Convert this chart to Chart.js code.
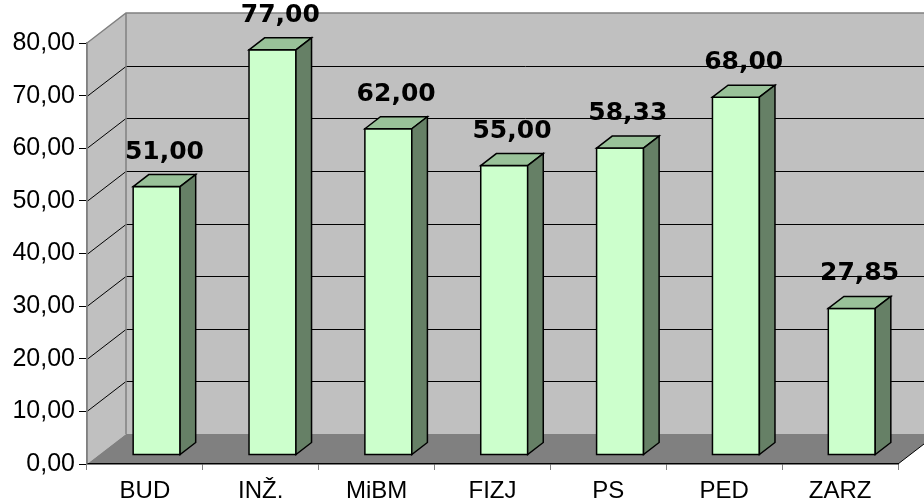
<!DOCTYPE html>
<html>
<head>
<meta charset="utf-8">
<script src="https://cdn.jsdelivr.net/npm/chart.js@4.4.1/dist/chart.umd.min.js"></script>
<style>
  html, body { margin: 0; padding: 0; background: #fff; }
  #wrap { width: 924px; height: 502px; position: relative; }
</style>
</head>
<body>
<div id="wrap"><canvas id="wykres"></canvas></div>
<script>
// dane wykresu
const categories = ['BUD', 'INŽ.', 'MiBM', 'FIZJ', 'PS', 'PED', 'ZARZ'];
const values = [51.00, 77.00, 62.00, 55.00, 58.33, 68.00, 27.85];
const yTicks = [0, 10, 20, 30, 40, 50, 60, 70, 80];

// glebokosc "3D" (przesuniecie tylnej sciany)
const DX = 39, DY = -30;
const D0 = 0.3, D1 = 0.7;   // gdzie w glebi stoja slupki

const fmt = v => v.toFixed(2).replace('.', ',');

const walls3d = {
    id: 'walls3d',
    beforeDraw(chart) {
        const ctx = chart.ctx;
        const a = chart.chartArea;
        const yScale = chart.scales.y;
        const L = a.left, R = a.right, T = a.top, B = a.bottom;

        ctx.save();
        ctx.fillStyle = '#fff';
        ctx.fillRect(0, 0, chart.width, chart.height);

        // tylna sciana
        ctx.fillStyle = '#C0C0C0';
        ctx.fillRect(L + DX, T + DY, R - L, B - T);

        // boczna sciana
        ctx.beginPath();
        ctx.moveTo(L, T);
        ctx.lineTo(L + DX, T + DY);
        ctx.lineTo(L + DX, B + DY);
        ctx.lineTo(L, B);
        ctx.closePath();
        ctx.fillStyle = '#C0C0C0';
        ctx.fill();

        // linie siatki
        ctx.strokeStyle = '#000';
        ctx.lineWidth = 1;
        yTicks.forEach(v => {
            if (v === 0 || v === yTicks[yTicks.length - 1]) return;
            const py = Math.round(yScale.getPixelForValue(v)) + 0.5;
            ctx.beginPath();
            ctx.moveTo(L, py);
            ctx.lineTo(L + DX, py + DY);
            ctx.lineTo(R + DX, py + DY);
            ctx.stroke();
        });

        // podloga
        ctx.beginPath();
        ctx.moveTo(L, B);
        ctx.lineTo(L + DX, B + DY);
        ctx.lineTo(R + DX, B + DY);
        ctx.lineTo(R, B);
        ctx.closePath();
        ctx.fillStyle = '#808080';
        ctx.fill();
        ctx.beginPath();
        ctx.moveTo(R, B);
        ctx.lineTo(R + DX, B + DY);
        ctx.strokeStyle = '#000';
        ctx.stroke();

        // obramowanie scian
        ctx.strokeStyle = '#808080';
        ctx.lineWidth = 1.5;
        ctx.beginPath();
        ctx.moveTo(L, B);
        ctx.lineTo(L, T);
        ctx.lineTo(L + DX, T + DY);
        ctx.lineTo(R + DX, T + DY);
        ctx.moveTo(L + DX, T + DY);
        ctx.lineTo(L + DX, B + DY);
        ctx.stroke();
        ctx.restore();
    },
    afterDatasetsDraw(chart) {
        const ctx = chart.ctx;
        const meta = chart.getDatasetMeta(0);
        const ox = DX * (D1 - D0), oy = DY * (D1 - D0);

        ctx.save();
        ctx.lineWidth = 1.5;
        ctx.strokeStyle = '#000';
        ctx.lineJoin = 'miter';
        meta.data.forEach((bar, i) => {
            const p = bar.getProps(['x', 'y', 'base', 'width'], true);
            const x0 = p.x - p.width / 2 + DX * D0;
            const x1 = p.x + p.width / 2 + DX * D0;
            const y0 = p.y + DY * D0;
            const y1 = p.base + DY * D0;

            // przod
            ctx.fillStyle = '#CCFFCC';
            ctx.fillRect(x0, y0, x1 - x0, y1 - y0);
            ctx.strokeRect(x0, y0, x1 - x0, y1 - y0);

            // gora
            ctx.beginPath();
            ctx.moveTo(x0, y0);
            ctx.lineTo(x0 + ox, y0 + oy);
            ctx.lineTo(x1 + ox, y0 + oy);
            ctx.lineTo(x1, y0);
            ctx.closePath();
            ctx.fillStyle = '#99C299';
            ctx.fill();
            ctx.stroke();

            // bok
            ctx.beginPath();
            ctx.moveTo(x1, y0);
            ctx.lineTo(x1 + ox, y0 + oy);
            ctx.lineTo(x1 + ox, y1 + oy);
            ctx.lineTo(x1, y1);
            ctx.closePath();
            ctx.fillStyle = '#668066';
            ctx.fill();
            ctx.stroke();

            // etykieta wartosci
            ctx.fillStyle = '#000';
            ctx.font = 'bold 25px "DejaVu Sans"';
            ctx.textAlign = 'center';
            ctx.textBaseline = 'alphabetic';
            ctx.fillText(fmt(values[i]), p.x + DX * D0 + ox / 2, y0 + oy - 16);
        });
        ctx.restore();
    }
};

new Chart(document.getElementById('wykres'), {
    type: 'bar',
    data: {
        labels: categories,
        datasets: [{
            data: values,
            backgroundColor: 'rgba(0,0,0,0)',
            borderWidth: 0,
            barPercentage: 0.405,
            categoryPercentage: 1
        }]
    },
    options: {
        responsive: true,
        maintainAspectRatio: false,
        animation: false,
        layout: { padding: { top: 43, right: 26, left: 0, bottom: 0 } },
        plugins: {
            legend: { display: false },
            tooltip: { enabled: false }
        },
        scales: {
            x: {
                grid: { display: true, drawOnChartArea: false, offset: true, tickLength: 6, color: '#808080' },
                border: { color: '#000', width: 1.5 },
                ticks: { color: '#000', padding: 7, font: { family: '"Liberation Sans", Arial', size: 24 } },
                afterFit(s) { s.height = 38; }
            },
            y: {
                min: 0,
                max: 80,
                grid: { drawOnChartArea: false, tickLength: 8, color: '#000' },
                border: { color: '#808080', width: 1.5 },
                ticks: {
                    color: '#000',
                    padding: 4,
                    font: { family: '"Liberation Sans", Arial', size: 25 },
                    callback: v => fmt(v)
                },
                afterBuildTicks(s) { s.ticks = yTicks.map(v => ({ value: v })); },
                afterFit(s) { s.width = 87; }
            }
        }
    },
    plugins: [walls3d]
});
</script>
</body>
</html>
